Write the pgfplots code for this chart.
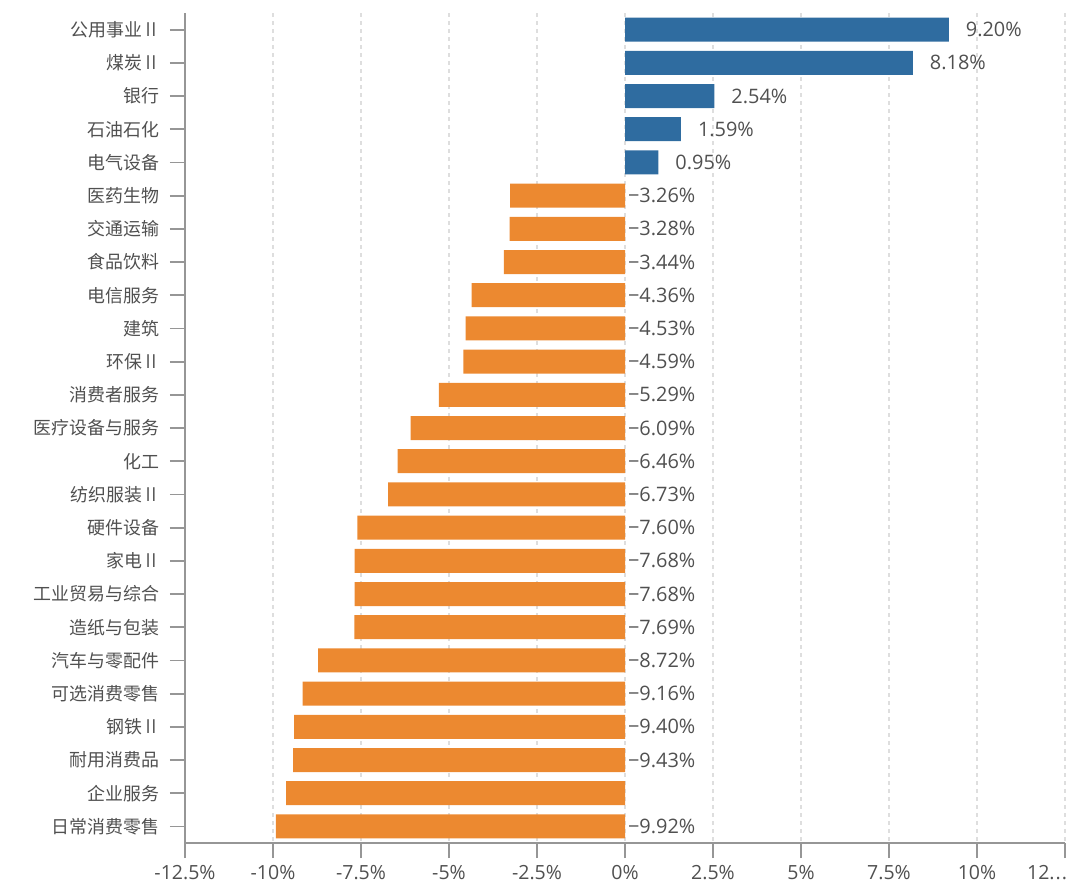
\documentclass[border=0pt]{standalone}
\usepackage{pgfplots}
\usepackage{graphicx}
\pgfplotsset{compat=1.18}
\usepackage{fontspec}
\setmainfont{Open Sans}
\newfontfamily\cjk{Noto Sans CJK SC}
\newfontfamily\djv{DejaVu Sans ExtraLight}
\newcommand{\rn}{{\kern0.8bp\resizebox{7.2bp}{6.9bp}{\djv Ⅱ}\kern0.4bp}}
\definecolor{barblue}{RGB}{47,108,160}
\definecolor{barorange}{RGB}{236,137,48}
\definecolor{txtgray}{RGB}{80,80,80}
\definecolor{axisgray}{RGB}{150,150,150}
\definecolor{gridgray}{RGB}{222,222,222}
\newcommand{\dotsx}{\hbox to 0pt{\hss 12.\kern0.5pt.\kern0.5pt.\kern-1bp}}
\begin{document}
\begin{tikzpicture}
\begin{axis}[
  scale only axis, width=440bp, height=415bp,
  xmin=-12.5, xmax=12.5, ymin=-0.5, ymax=24.5, y dir=reverse,
  axis x line*=bottom, axis y line*=left,
  axis line style={-, draw=axisgray, line width=0.9bp},
  xtick={-12.5,-10,-7.5,-5,-2.5,0,2.5,5,7.5,10,12.5},
  xticklabels={-12.5\%,-10\%,-7.5\%,-5\%,-2.5\%,0\%,2.5\%,5\%,7.5\%,10\%,\dotsx},
  ytick={0,1,2,3,4,5,6,7,8,9,10,11,12,13,14,15,16,17,18,19,20,21,22,23,24},
  yticklabels={公用事业\rn,煤炭\rn,银行,石油石化,电气设备,医药生物,交通运输,食品饮料,电信服务,建筑,环保\rn,消费者服务,医疗设备与服务,化工,纺织服装\rn,硬件设备,家电\rn,工业贸易与综合,造纸与包装,汽车与零配件,可选消费零售,钢铁\rn,耐用消费品,企业服务,日常消费零售},
  tick align=outside, major tick length=7.5bp,
  tick style={draw=axisgray, line width=0.9bp},
  xmajorgrids, grid style={draw=gridgray, dash pattern=on 2bp off 2bp, line width=0.6bp},
  xticklabel style={font=\fontsize{9.8}{11}\selectfont, text=txtgray},
  yticklabel style={font=\cjk\fontsize{9}{10}\selectfont, text=txtgray, xshift=-2bp},
  clip=false,
]
\addplot[xbar, bar width=12bp, bar shift=0pt, fill=barblue, draw=none,
  nodes near coords, point meta=explicit symbolic,
  every node near coord/.append style={anchor=west, font=\fontsize{10}{11}\selectfont, text=txtgray, xshift=5bp}]
  coordinates {(9.20,0)[9.20\%] (8.18,1)[8.18\%] (2.54,2)[2.54\%] (1.59,3)[1.59\%] (0.95,4)[0.95\%]};
\addplot[xbar, bar width=12bp, bar shift=0pt, fill=barorange, draw=none]
  coordinates {(-3.26,5) (-3.28,6) (-3.44,7) (-4.36,8) (-4.53,9) (-4.59,10) (-5.29,11) (-6.09,12) (-6.46,13) (-6.73,14) (-7.60,15) (-7.68,16) (-7.68,17) (-7.69,18) (-8.72,19) (-9.16,20) (-9.40,21) (-9.43,22) (-9.63,23) (-9.92,24)};
\addplot[only marks, mark=none, draw=none,
  nodes near coords, point meta=explicit symbolic,
  every node near coord/.append style={anchor=west, font=\fontsize{10}{11}\selectfont, text=txtgray, xshift=-2bp}]
  coordinates {(0,5)[−3.26\%] (0,6)[−3.28\%] (0,7)[−3.44\%] (0,8)[−4.36\%] (0,9)[−4.53\%] (0,10)[−4.59\%] (0,11)[−5.29\%] (0,12)[−6.09\%] (0,13)[−6.46\%] (0,14)[−6.73\%] (0,15)[−7.60\%] (0,16)[−7.68\%] (0,17)[−7.68\%] (0,18)[−7.69\%] (0,19)[−8.72\%] (0,20)[−9.16\%] (0,21)[−9.40\%] (0,22)[−9.43\%] (0,24)[−9.92\%]};
\coordinate (tl) at (axis cs:-12.5,-0.5);
\coordinate (br) at (axis cs:12.5,24.5);
\end{axis}
\pgfresetboundingbox
\path[use as bounding box] ([xshift=-92.5bp,yshift=6.5bp]tl) rectangle ([xshift=7.5bp,yshift=-23bp]br);
\end{tikzpicture}
\end{document}
